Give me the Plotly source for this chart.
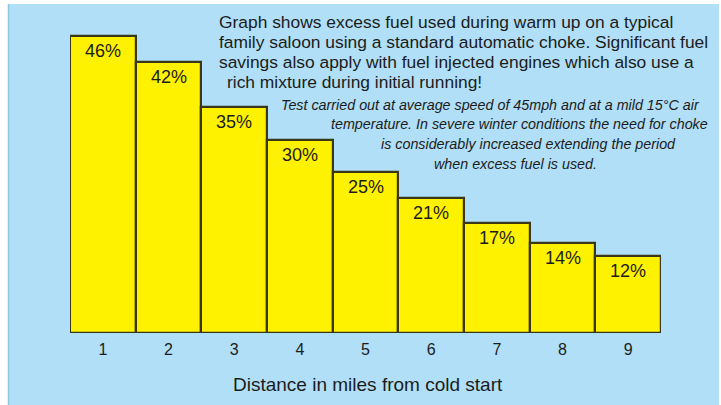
import plotly.graph_objects as go

miles = [1, 2, 3, 4, 5, 6, 7, 8, 9]
excess_fuel_pct = [46, 42, 35, 30, 25, 21, 17, 14, 12]

main_lines = [
    "Graph shows excess fuel used during warm up on a typical",
    "family saloon using a standard automatic choke. Significant fuel",
    "savings also apply with fuel injected engines which also use a",
    "rich mixture during initial running!",
]
note_lines = [
    "Test carried out at average speed of 45mph and at a mild 15°C air",
    "temperature. In severe winter conditions the need for choke",
    "is considerably increased extending the period",
    "when excess fuel is used.",
]
x_title = "Distance in miles from cold start"

W, H = 721, 405
L, R, T, B = 70, 60, 20, 72
PW, PH = W - L - R, H - T - B

def px(x):
    return (x - L) / PW

def py(y):
    return (H - B - y) / PH

FONT = "Liberation Sans, Arial, sans-serif"
TXT = "#1c1c1c"

fig = go.Figure(go.Bar(
    x=miles, y=excess_fuel_pct,
    marker=dict(color="#fff200", line=dict(color="#3a3618", width=2.2)),
    width=1.0,
    hoverinfo="skip",
))

annotations = []
for m, v in zip(miles, excess_fuel_pct):
    annotations.append(dict(x=m, y=v, xref="x", yref="y", text=f"{v}%",
                            showarrow=False, yanchor="top", yshift=-3,
                            font=dict(family=FONT, size=18, color=TXT)))

main_pos = [(217, 22), (217, 42), (217, 62), (225, 82)]
for t, (x, y) in zip(main_lines, main_pos):
    annotations.append(dict(x=px(x), y=py(y), xref="paper", yref="paper", text=t,
                            showarrow=False, xanchor="left", yanchor="middle",
                            font=dict(family=FONT, size=17.4, color=TXT)))

note_pos = [(279, 105), (329, 124), (379, 144), (432, 164)]
for t, (x, y) in zip(note_lines, note_pos):
    annotations.append(dict(x=px(x), y=py(y), xref="paper", yref="paper",
                            text=f"<i>{t}</i>",
                            showarrow=False, xanchor="left", yanchor="middle",
                            font=dict(family=FONT, size=14.3, color=TXT)))

annotations.append(dict(x=px(368), y=py(384), xref="paper", yref="paper", text=x_title,
                        showarrow=False, xanchor="center", yanchor="middle",
                        font=dict(family=FONT, size=19, color=TXT)))

fig.update_layout(
    width=W, height=H,
    margin=dict(l=L, r=R, t=T, b=B, pad=0),
    paper_bgcolor="white",
    plot_bgcolor="rgba(0,0,0,0)",
    bargap=0,
    showlegend=False,
    annotations=annotations,
    shapes=[dict(type="rect", xref="paper", yref="paper",
                 x0=px(8), x1=px(719), y0=py(405), y1=py(4),
                 fillcolor="#b0dff7", line=dict(width=0), layer="below"),
            dict(type="line", xref="paper", yref="paper",
                 x0=px(8.5), x1=px(8.5), y0=py(405), y1=py(4),
                 line=dict(color="#8fc6e2", width=1.5), layer="below")],
    xaxis=dict(showgrid=False, zeroline=False, showline=False, ticks="",
               tickmode="array", tickvals=miles, ticktext=[str(m) for m in miles],
               tickfont=dict(family=FONT, size=16, color=TXT),
               ticklabelstandoff=5,
               range=[0.5, 9.5], fixedrange=True),
    yaxis=dict(visible=False, range=[0, PH / 6.45], fixedrange=True),
)

fig.write_html("out.html", config={"displayModeBar": False},
               post_script="document.body.style.margin='0px';")
